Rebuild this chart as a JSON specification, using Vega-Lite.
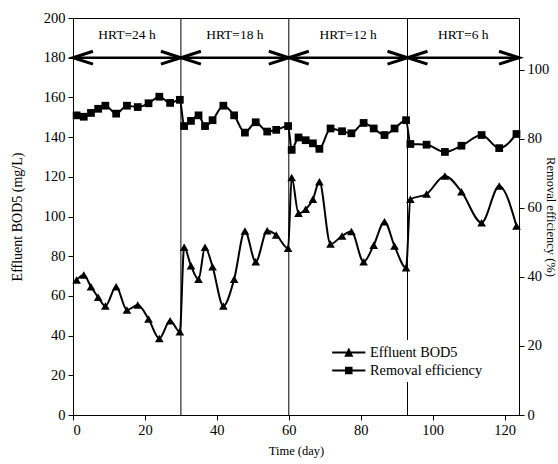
{
  "$schema": "https://vega.github.io/schema/vega-lite/v6.json",
  "width": 446,
  "height": 397,
  "autosize": {"type": "none"},
  "padding": {"left": 73, "top": 18, "right": 39, "bottom": 49},
  "config": {
    "view": {"stroke": "black", "strokeWidth": 1},
    "font": "Liberation Serif",
    "axis": {
      "grid": false,
      "domainColor": "black",
      "tickColor": "black",
      "labelColor": "black",
      "titleColor": "black",
      "labelFont": "Liberation Serif",
      "titleFont": "Liberation Serif",
      "labelFontSize": 14.5,
      "titleFontSize": 13,
      "titleFontWeight": "normal",
      "tickSize": 5,
      "labelPadding": 3
    },
    "axisLeft": {"titlePadding": 19, "titleFontSize": 14},
    "axisRight": {"titlePadding": -5, "titleFontSize": 12.5},
    "axisBottom": {"titlePadding": 8, "titleFontSize": 12.5}
  },
  "datasets": {
    "main": [
      {"day": 1, "bod": 68.0, "removal": 86.8},
      {"day": 3, "bod": 70.5, "removal": 86.4},
      {"day": 5, "bod": 64.6, "removal": 87.5},
      {"day": 7, "bod": 59.3, "removal": 88.7},
      {"day": 9, "bod": 54.9, "removal": 89.6},
      {"day": 12, "bod": 64.6, "removal": 87.3},
      {"day": 15, "bod": 52.9, "removal": 89.6},
      {"day": 18, "bod": 55.4, "removal": 89.2},
      {"day": 21, "bod": 48.4, "removal": 90.3},
      {"day": 24, "bod": 38.6, "removal": 92.2},
      {"day": 27, "bod": 47.5, "removal": 90.4},
      {"day": 29.7, "bod": 42.0, "removal": 91.3},
      {"day": 30.9, "bod": 84.5, "removal": 83.7},
      {"day": 32.8, "bod": 75.2, "removal": 85.2},
      {"day": 34.9, "bod": 68.4, "removal": 86.8},
      {"day": 36.7, "bod": 84.5, "removal": 83.7},
      {"day": 38.8, "bod": 74.7, "removal": 85.4},
      {"day": 41.8, "bod": 54.9, "removal": 89.6},
      {"day": 44.8, "bod": 68.4, "removal": 86.8},
      {"day": 47.8, "bod": 92.7, "removal": 81.8},
      {"day": 50.8, "bod": 77.2, "removal": 84.8},
      {"day": 54.0, "bod": 92.8, "removal": 82.1},
      {"day": 56.5, "bod": 90.7, "removal": 82.6},
      {"day": 59.8, "bod": 84.0, "removal": 83.7},
      {"day": 60.8, "bod": 119.7, "removal": 76.8},
      {"day": 62.7, "bod": 101.6, "removal": 80.4},
      {"day": 64.7, "bod": 103.6, "removal": 79.6},
      {"day": 66.7, "bod": 108.7, "removal": 78.7},
      {"day": 68.5, "bod": 117.5, "removal": 77.1},
      {"day": 71.6, "bod": 86.1, "removal": 83.0},
      {"day": 74.8, "bod": 90.2, "removal": 82.2},
      {"day": 77.4, "bod": 92.4, "removal": 81.6},
      {"day": 80.8, "bod": 77.2, "removal": 84.6},
      {"day": 83.6, "bod": 85.5, "removal": 83.0},
      {"day": 86.6, "bod": 97.4, "removal": 81.1},
      {"day": 89.4, "bod": 85.1, "removal": 83.0},
      {"day": 92.6, "bod": 74.2, "removal": 85.4},
      {"day": 93.8, "bod": 108.7, "removal": 78.5},
      {"day": 98.3, "bod": 111.3, "removal": 78.3},
      {"day": 103.4, "bod": 120.4, "removal": 76.2},
      {"day": 108.0, "bod": 112.5, "removal": 78.0},
      {"day": 113.6, "bod": 96.9, "removal": 81.1},
      {"day": 118.5, "bod": 115.4, "removal": 77.3},
      {"day": 123.3, "bod": 95.2, "removal": 81.4}
    ],
    "divs": [{"day": 30}, {"day": 60}, {"day": 93}],
    "shaft": [{"start": 0, "end": 124}],
    "leftHeads": [{"day": 0}, {"day": 30}, {"day": 60}, {"day": 93}],
    "rightHeads": [{"day": 30}, {"day": 60}, {"day": 93}, {"day": 124}],
    "labels": [
      {"day": 15, "label": "HRT=24 h"},
      {"day": 45, "label": "HRT=18 h"},
      {"day": 76.5, "label": "HRT=12 h"},
      {"day": 108.5, "label": "HRT=6 h"}
    ]
  },
  "layer": [
    {
      "layer": [
        {
          "data": {"name": "divs"},
          "mark": {"type": "rule", "color": "black", "strokeWidth": 1},
          "encoding": {
            "x": {"field": "day", "type": "quantitative", "scale": {"domain": [0, 124], "nice": false}, "axis": {"values": [0, 20, 40, 60, 80, 100, 120], "title": "Time (day)"}}
          }
        },
        {
          "data": {"name": "shaft"},
          "mark": {"type": "rule", "color": "black", "strokeWidth": 2.5},
          "encoding": {
            "x": {"field": "start", "type": "quantitative", "scale": {"domain": [0, 124], "nice": false}, "axis": {"values": [0, 20, 40, 60, 80, 100, 120], "title": "Time (day)"}},
            "x2": {"field": "end"},
            "y": {"datum": 180, "type": "quantitative", "scale": {"domain": [0, 200], "nice": false}, "axis": {"values": [0, 20, 40, 60, 80, 100, 120, 140, 160, 180, 200], "title": "Effluent BOD5 (mg/L)"}}
          }
        },
        {
          "data": {"name": "leftHeads"},
          "mark": {"type": "point", "shape": "M1,-0.32L0,0L1,0.32", "filled": false, "stroke": "black", "strokeWidth": 3, "size": 1600, "opacity": 1},
          "encoding": {
            "x": {"field": "day", "type": "quantitative", "scale": {"domain": [0, 124], "nice": false}, "axis": {"values": [0, 20, 40, 60, 80, 100, 120], "title": "Time (day)"}},
            "y": {"datum": 180, "type": "quantitative", "scale": {"domain": [0, 200], "nice": false}, "axis": {"values": [0, 20, 40, 60, 80, 100, 120, 140, 160, 180, 200], "title": "Effluent BOD5 (mg/L)"}}
          }
        },
        {
          "data": {"name": "rightHeads"},
          "mark": {"type": "point", "shape": "M-1,-0.32L0,0L-1,0.32", "filled": false, "stroke": "black", "strokeWidth": 3, "size": 1600, "opacity": 1},
          "encoding": {
            "x": {"field": "day", "type": "quantitative", "scale": {"domain": [0, 124], "nice": false}, "axis": {"values": [0, 20, 40, 60, 80, 100, 120], "title": "Time (day)"}},
            "y": {"datum": 180, "type": "quantitative", "scale": {"domain": [0, 200], "nice": false}, "axis": {"values": [0, 20, 40, 60, 80, 100, 120, 140, 160, 180, 200], "title": "Effluent BOD5 (mg/L)"}}
          }
        },
        {
          "data": {"name": "labels"},
          "mark": {"type": "text", "font": "Liberation Serif", "fontSize": 13.5, "color": "black", "baseline": "middle"},
          "encoding": {
            "x": {"field": "day", "type": "quantitative", "scale": {"domain": [0, 124], "nice": false}, "axis": {"values": [0, 20, 40, 60, 80, 100, 120], "title": "Time (day)"}},
            "y": {"datum": 191.5, "type": "quantitative", "scale": {"domain": [0, 200], "nice": false}, "axis": {"values": [0, 20, 40, 60, 80, 100, 120, 140, 160, 180, 200], "title": "Effluent BOD5 (mg/L)"}},
            "text": {"field": "label"}
          }
        },
        {
          "data": {"name": "main"},
          "mark": {"type": "line", "color": "black", "strokeWidth": 2, "interpolate": "monotone"},
          "encoding": {
            "x": {"field": "day", "type": "quantitative", "scale": {"domain": [0, 124], "nice": false}, "axis": {"values": [0, 20, 40, 60, 80, 100, 120], "title": "Time (day)"}},
            "y": {"field": "bod", "type": "quantitative", "scale": {"domain": [0, 200], "nice": false}, "axis": {"values": [0, 20, 40, 60, 80, 100, 120, 140, 160, 180, 200], "title": "Effluent BOD5 (mg/L)"}}
          }
        },
        {
          "data": {"name": "main"},
          "mark": {"type": "point", "shape": "triangle-up", "filled": true, "color": "black", "size": 75, "opacity": 1},
          "encoding": {
            "x": {"field": "day", "type": "quantitative", "scale": {"domain": [0, 124], "nice": false}, "axis": {"values": [0, 20, 40, 60, 80, 100, 120], "title": "Time (day)"}},
            "y": {"field": "bod", "type": "quantitative", "scale": {"domain": [0, 200], "nice": false}, "axis": {"values": [0, 20, 40, 60, 80, 100, 120, 140, 160, 180, 200], "title": "Effluent BOD5 (mg/L)"}}
          }
        },
        {
          "data": {"values": []},
          "mark": {"type": "point", "filled": true, "color": "black", "opacity": 1},
          "encoding": {
            "x": {"field": "day", "type": "quantitative", "scale": {"domain": [0, 124], "nice": false}, "axis": {"values": [0, 20, 40, 60, 80, 100, 120], "title": "Time (day)"}},
            "y": {"field": "bod", "type": "quantitative", "scale": {"domain": [0, 200], "nice": false}, "axis": {"values": [0, 20, 40, 60, 80, 100, 120, 140, 160, 180, 200], "title": "Effluent BOD5 (mg/L)"}},
            "shape": {
              "field": "series",
              "type": "nominal",
              "scale": {
                "domain": ["Effluent BOD5", "Removal efficiency"],
                "range": [
                  "M-1,-0.12H3V0.12H-1Z M0.45,0.5L1,-0.6L1.55,0.5Z",
                  "M-1,-0.12H3V0.12H-1Z M0.55,-0.45H1.45V0.45H0.55Z"
                ]
              },
              "legend": {
                "orient": "none",
                "legendX": 255,
                "legendY": 322,
                "title": null,
                "fillColor": "white",
                "padding": 4,
                "labelFont": "Liberation Serif",
                "labelFontSize": 14.3,
                "labelColor": "black",
                "labelOffset": 21,
                "symbolSize": 275,
                "symbolFillColor": "black",
                "symbolStrokeColor": "black",
                "symbolStrokeWidth": 0,
                "rowPadding": 2
              }
            }
          }
        }
      ]
    },
    {
      "layer": [
        {
          "data": {"name": "main"},
          "mark": {"type": "line", "color": "black", "strokeWidth": 2, "interpolate": "monotone"},
          "encoding": {
            "x": {"field": "day", "type": "quantitative", "scale": {"domain": [0, 124], "nice": false}, "axis": {"values": [0, 20, 40, 60, 80, 100, 120], "title": "Time (day)"}},
            "y": {"field": "removal", "type": "quantitative", "scale": {"domain": [0, 115], "nice": false}, "axis": {"orient": "right", "values": [0, 20, 40, 60, 80, 100], "title": "Removal efficiency (%)"}}
          }
        },
        {
          "data": {"name": "main"},
          "mark": {"type": "point", "shape": "square", "filled": true, "color": "black", "size": 60, "opacity": 1},
          "encoding": {
            "x": {"field": "day", "type": "quantitative", "scale": {"domain": [0, 124], "nice": false}, "axis": {"values": [0, 20, 40, 60, 80, 100, 120], "title": "Time (day)"}},
            "y": {"field": "removal", "type": "quantitative", "scale": {"domain": [0, 115], "nice": false}, "axis": {"orient": "right", "values": [0, 20, 40, 60, 80, 100], "title": "Removal efficiency (%)"}}
          }
        }
      ]
    }
  ],
  "resolve": {"scale": {"y": "independent"}}
}
